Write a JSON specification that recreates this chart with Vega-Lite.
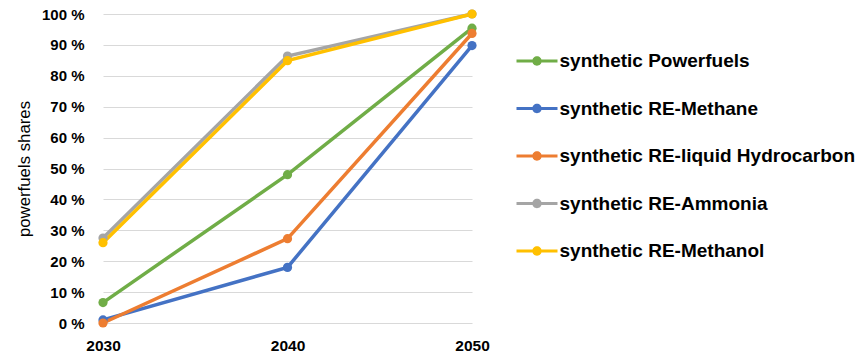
{
  "$schema": "https://vega.github.io/schema/vega-lite/v6.json",
  "width": 369,
  "height": 309,
  "autosize": {"type": "none"},
  "padding": {"left": 103, "top": 14, "right": 394, "bottom": 36},
  "background": "white",
  "config": {"view": {"stroke": null}},
  "data": {
    "values": [
      {"series": "synthetic Powerfuels", "year": 2030, "share": 6.6},
      {"series": "synthetic Powerfuels", "year": 2040, "share": 48},
      {"series": "synthetic Powerfuels", "year": 2050, "share": 95.4},
      {"series": "synthetic RE-Methane", "year": 2030, "share": 1},
      {"series": "synthetic RE-Methane", "year": 2040, "share": 18},
      {"series": "synthetic RE-Methane", "year": 2050, "share": 89.8},
      {"series": "synthetic RE-liquid Hydrocarbon", "year": 2030, "share": 0},
      {"series": "synthetic RE-liquid Hydrocarbon", "year": 2040, "share": 27.3},
      {"series": "synthetic RE-liquid Hydrocarbon", "year": 2050, "share": 93.7},
      {"series": "synthetic RE-Ammonia", "year": 2030, "share": 27.5},
      {"series": "synthetic RE-Ammonia", "year": 2040, "share": 86.4},
      {"series": "synthetic RE-Ammonia", "year": 2050, "share": 100},
      {"series": "synthetic RE-Methanol", "year": 2030, "share": 26},
      {"series": "synthetic RE-Methanol", "year": 2040, "share": 84.9},
      {"series": "synthetic RE-Methanol", "year": 2050, "share": 100}
    ]
  },
  "encoding": {
    "x": {
      "field": "year",
      "type": "quantitative",
      "scale": {"domain": [2030, 2050], "nice": false, "zero": false},
      "axis": {
        "values": [2030, 2040, 2050],
        "format": "d",
        "title": null,
        "labelFont": "Liberation Sans",
        "labelFontSize": 15.5,
        "labelFontWeight": "bold",
        "labelColor": "#000000",
        "labelPadding": 15,
        "ticks": false,
        "tickSize": 0,
        "domain": false,
        "grid": false,
        "labelFlush": false
      }
    },
    "y": {
      "field": "share",
      "type": "quantitative",
      "scale": {"domain": [0, 100], "nice": false},
      "axis": {
        "values": [0, 10, 20, 30, 40, 50, 60, 70, 80, 90, 100],
        "title": "powerfuels shares",
        "titleFont": "Liberation Sans",
        "titleFontSize": 16.8,
        "titleFontWeight": "normal",
        "titleColor": "#000000",
        "titlePadding": 8,
        "labelExpr": "datum.value + ' %'",
        "labelFont": "Liberation Sans",
        "labelFontSize": 15,
        "labelFontWeight": "bold",
        "labelColor": "#000000",
        "labelPadding": 19,
        "ticks": false,
        "tickSize": 0,
        "domain": false,
        "grid": true,
        "gridColor": "#D9D9D9",
        "gridWidth": 1
      }
    },
    "color": {
      "field": "series",
      "type": "nominal",
      "scale": {
        "domain": ["synthetic Powerfuels", "synthetic RE-Methane", "synthetic RE-liquid Hydrocarbon", "synthetic RE-Ammonia", "synthetic RE-Methanol"],
        "range": ["#70AD47", "#4472C4", "#ED7D31", "#A5A5A5", "#FFC000"]
      },
      "legend": {
        "title": null,
        "orient": "none",
        "legendX": 413.5,
        "legendY": 26.5,
        "symbolType": "M-1,-0.075L1,-0.075L1,0.075L-1,0.075Z M-0.23,0A0.23,0.23 0 1,1 0.23,0A0.23,0.23 0 1,1 -0.23,0Z",
        "symbolSize": 1681,
        "symbolStrokeWidth": 0,
        "labelFont": "Liberation Sans",
        "labelFontSize": 19,
        "labelFontWeight": "bold",
        "labelColor": "#000000",
        "labelOffset": 2,
        "rowPadding": 16.5,
        "labelLimit": 400,
        "encode": {
          "symbols": {
            "update": {
              "fill": {"scale": "color", "field": "value"},
              "opacity": {"value": 1}
            }
          }
        }
      }
    }
  },
  "layer": [
    {"mark": {"type": "line", "strokeWidth": 3.5}},
    {"mark": {"type": "point", "filled": true, "size": 85, "opacity": 1}}
  ]
}
